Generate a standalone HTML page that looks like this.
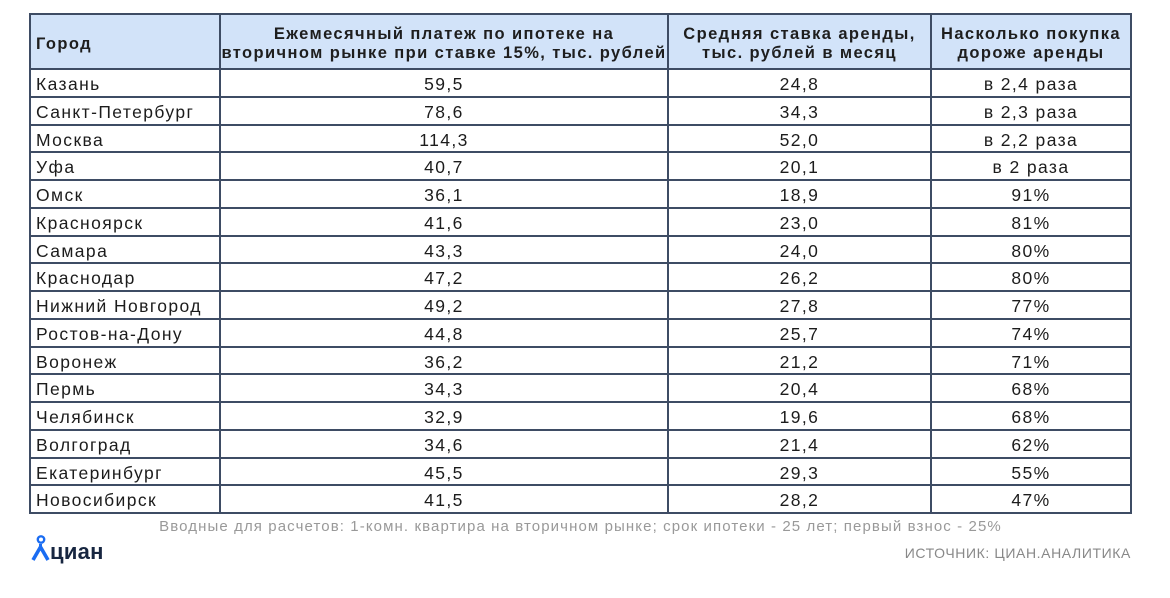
<!DOCTYPE html>
<html><head><meta charset="utf-8">
<style>
html,body{margin:0;padding:0;background:#fff;}
body{width:1170px;height:598px;position:relative;overflow:hidden;font-family:"Liberation Sans","DejaVu Sans",sans-serif;color:#1c1c1c;}
.hdr{position:absolute;left:30px;top:14px;width:1101px;height:55px;background:#d2e3f9;}
.h{position:absolute;left:30px;width:1101px;height:2px;background:#3e4c64;}
.v{position:absolute;top:13px;height:501px;width:2px;background:#3e4c64;}
.ht{position:absolute;font-weight:bold;font-size:16.5px;letter-spacing:1.4px;line-height:19px;text-align:center;color:#1e1e1e;white-space:nowrap;}
.row{position:absolute;left:0;width:1170px;height:28px;line-height:28px;font-size:17.5px;letter-spacing:1.4px;white-space:nowrap;}
.row span{position:absolute;top:0;}
.c1{left:36px;}
.c2{left:220px;width:448px;text-align:center;}
.c3{left:668px;width:263px;text-align:center;}
.c4{left:931px;width:200px;text-align:center;}
.foot{position:absolute;left:30px;width:1101px;top:517px;text-align:center;font-size:15px;letter-spacing:1.1px;color:#999;line-height:20px;white-space:nowrap;}
.src{position:absolute;right:39px;top:544px;font-size:14px;color:#888;line-height:18px;white-space:nowrap;letter-spacing:0.6px;}
.logo{position:absolute;left:50px;top:538px;font-size:22px;font-weight:bold;color:#172640;line-height:28px;letter-spacing:0.3px;}
</style></head><body>
<div class="hdr"></div>

<div class="ht" style="left:36px;top:35px;text-align:left;">Город</div>
<div class="ht" style="left:220px;width:448px;top:25px;">Ежемесячный платеж по ипотеке на<br>вторичном рынке при ставке 15%, тыс. рублей</div>
<div class="ht" style="left:668px;width:263px;top:25px;">Средняя ставка аренды,<br>тыс. рублей в месяц</div>
<div class="ht" style="left:931px;width:200px;top:25px;">Насколько покупка<br>дороже аренды</div>

<div class="row" style="top:70px"><span class="c1">Казань</span><span class="c2">59,5</span><span class="c3">24,8</span><span class="c4">в 2,4 раза</span></div>
<div class="row" style="top:97.75px"><span class="c1">Санкт-Петербург</span><span class="c2">78,6</span><span class="c3">34,3</span><span class="c4">в 2,3 раза</span></div>
<div class="row" style="top:125.5px"><span class="c1">Москва</span><span class="c2">114,3</span><span class="c3">52,0</span><span class="c4">в 2,2 раза</span></div>
<div class="row" style="top:153.25px"><span class="c1">Уфа</span><span class="c2">40,7</span><span class="c3">20,1</span><span class="c4">в 2 раза</span></div>
<div class="row" style="top:181px"><span class="c1">Омск</span><span class="c2">36,1</span><span class="c3">18,9</span><span class="c4">91%</span></div>
<div class="row" style="top:208.75px"><span class="c1">Красноярск</span><span class="c2">41,6</span><span class="c3">23,0</span><span class="c4">81%</span></div>
<div class="row" style="top:236.5px"><span class="c1">Самара</span><span class="c2">43,3</span><span class="c3">24,0</span><span class="c4">80%</span></div>
<div class="row" style="top:264.25px"><span class="c1">Краснодар</span><span class="c2">47,2</span><span class="c3">26,2</span><span class="c4">80%</span></div>
<div class="row" style="top:292px"><span class="c1">Нижний Новгород</span><span class="c2">49,2</span><span class="c3">27,8</span><span class="c4">77%</span></div>
<div class="row" style="top:319.75px"><span class="c1">Ростов-на-Дону</span><span class="c2">44,8</span><span class="c3">25,7</span><span class="c4">74%</span></div>
<div class="row" style="top:347.5px"><span class="c1">Воронеж</span><span class="c2">36,2</span><span class="c3">21,2</span><span class="c4">71%</span></div>
<div class="row" style="top:375.25px"><span class="c1">Пермь</span><span class="c2">34,3</span><span class="c3">20,4</span><span class="c4">68%</span></div>
<div class="row" style="top:403px"><span class="c1">Челябинск</span><span class="c2">32,9</span><span class="c3">19,6</span><span class="c4">68%</span></div>
<div class="row" style="top:430.75px"><span class="c1">Волгоград</span><span class="c2">34,6</span><span class="c3">21,4</span><span class="c4">62%</span></div>
<div class="row" style="top:458.5px"><span class="c1">Екатеринбург</span><span class="c2">45,5</span><span class="c3">29,3</span><span class="c4">55%</span></div>
<div class="row" style="top:486.25px"><span class="c1">Новосибирск</span><span class="c2">41,5</span><span class="c3">28,2</span><span class="c4">47%</span></div>

<div class="h" style="top:13px"></div>
<div class="h" style="top:68px"></div>
<div class="h" style="top:95.75px"></div>
<div class="h" style="top:123.5px"></div>
<div class="h" style="top:151.25px"></div>
<div class="h" style="top:179px"></div>
<div class="h" style="top:206.75px"></div>
<div class="h" style="top:234.5px"></div>
<div class="h" style="top:262.25px"></div>
<div class="h" style="top:290px"></div>
<div class="h" style="top:317.75px"></div>
<div class="h" style="top:345.5px"></div>
<div class="h" style="top:373.25px"></div>
<div class="h" style="top:401px"></div>
<div class="h" style="top:428.75px"></div>
<div class="h" style="top:456.5px"></div>
<div class="h" style="top:484.25px"></div>
<div class="h" style="top:512px"></div>
<div class="v" style="left:29px"></div>
<div class="v" style="left:219px"></div>
<div class="v" style="left:667px"></div>
<div class="v" style="left:930px"></div>
<div class="v" style="left:1130px"></div>

<div class="foot">Вводные для расчетов: 1-комн. квартира на вторичном рынке; срок ипотеки - 25 лет; первый взнос - 25%</div>

<svg style="position:absolute;left:0;top:0" width="1170" height="598">
  <circle cx="41" cy="539.5" r="3.2" fill="none" stroke="#1a6cf2" stroke-width="2.4"/>
  <polyline points="33,560 40.5,547 48,560" fill="none" stroke="#1a6cf2" stroke-width="3.6" stroke-linejoin="round"/>
  <line x1="40.5" y1="547" x2="40.5" y2="544" stroke="#1a6cf2" stroke-width="3"/>
</svg>
<div class="logo">циан</div>

<div class="src">ИСТОЧНИК: ЦИАН.АНАЛИТИКА</div>
</body></html>
